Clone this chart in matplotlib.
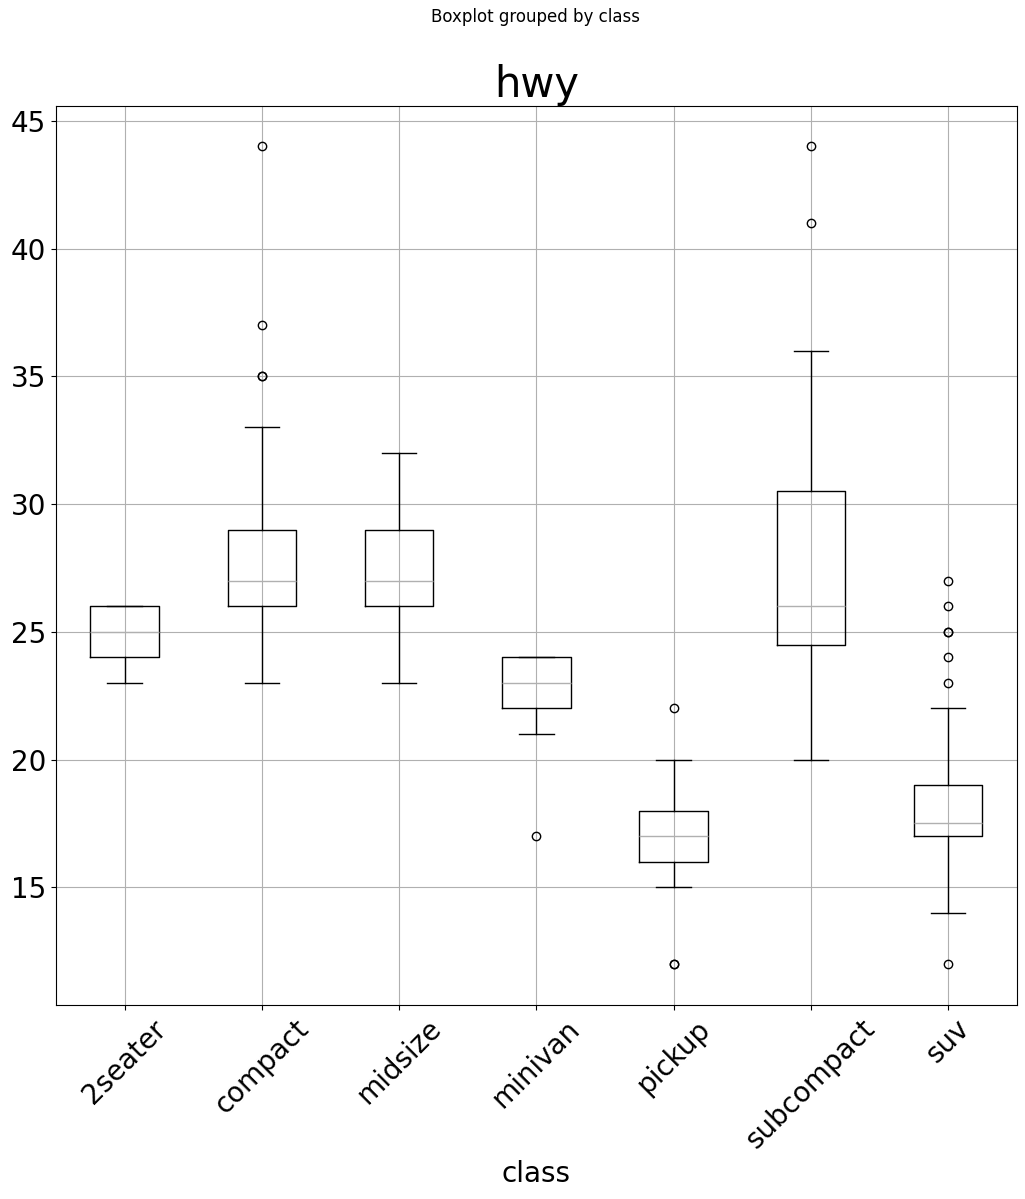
import matplotlib
matplotlib.use("Agg")
import matplotlib.pyplot as plt

# per-class box statistics for hwy
classes = ["2seater", "compact", "midsize", "minivan", "pickup", "subcompact", "suv"]
whislo = [23, 23, 23, 21, 15, 20, 14]
q1 = [24, 26, 26, 22, 16, 24.5, 17]
med = [25, 27, 27, 23, 17, 26, 17.5]
q3 = [26, 29, 29, 24, 18, 30.5, 19]
whishi = [26, 33, 32, 24, 20, 36, 22]
fliers = [
    [],
    [35, 35, 37, 44],
    [],
    [17],
    [12, 12, 22],
    [41, 44],
    [12, 23, 24, 25, 25, 26, 27],
]

stats = [
    {"label": c, "whislo": lo, "q1": a, "med": m, "q3": b, "whishi": hi, "fliers": f}
    for c, lo, a, m, b, hi, f in zip(classes, whislo, q1, med, q3, whishi, fliers)
]

fig, ax = plt.subplots(figsize=(10.25, 11.99), dpi=100)
ax.bxp(
    stats,
    boxprops=dict(color="black"),
    whiskerprops=dict(color="black"),
    capprops=dict(color="black"),
    medianprops=dict(color="#b0b0b0"),
    flierprops=dict(marker="o", markerfacecolor="none", markeredgecolor="black"),
)
ax.grid(True, color="#b0b0b0")
ax.set_axisbelow(True)
ax.set_title("hwy", fontsize=30)
ax.set_xlabel("class", fontsize=20)
ax.tick_params(axis="both", labelsize=20)
ax.tick_params(axis="x", labelrotation=45)
fig.suptitle("Boxplot grouped by class", fontsize=12, x=0.522, y=0.993)
fig.subplots_adjust(left=0.0546, right=0.992, top=0.912, bottom=0.162)
fig.savefig("out.png")
